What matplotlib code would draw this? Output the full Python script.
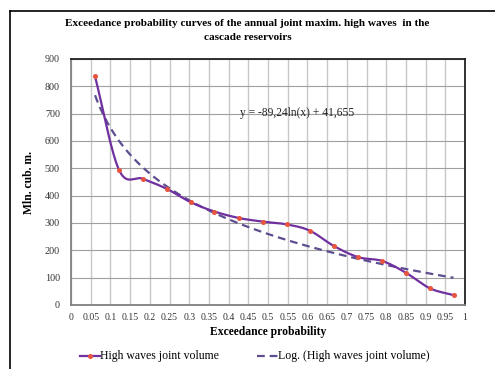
import numpy as np
import matplotlib
matplotlib.use("Agg")
import matplotlib.pyplot as plt

prob = [0.061, 0.122, 0.182, 0.243, 0.304, 0.364, 0.427, 0.487, 0.547,
        0.606, 0.667, 0.729, 0.790, 0.850, 0.911, 0.971]
volume = [836, 494, 462, 425, 376, 342, 318, 305, 295,
          272, 216, 175, 161, 118, 61, 36]
x_ticks = [0, 0.05, 0.1, 0.15, 0.2, 0.25, 0.3, 0.35, 0.4, 0.45, 0.5,
           0.55, 0.6, 0.65, 0.7, 0.75, 0.8, 0.85, 0.9, 0.95, 1]
y_ticks = [0, 100, 200, 300, 400, 500, 600, 700, 800, 900]

SERIF = ["Liberation Serif", "DejaVu Serif"]
plt.rcParams['font.family'] = SERIF

def catmull_rom(x, y, n=20):
    x = np.asarray(x, float); y = np.asarray(y, float)
    px = np.concatenate([[2*x[0]-x[1]], x, [2*x[-1]-x[-2]]])
    py = np.concatenate([[2*y[0]-y[1]], y, [2*y[-1]-y[-2]]])
    xs, ys = [], []
    t = np.linspace(0, 1, n, endpoint=False)
    for i in range(1, len(px)-2):
        for arr, out in ((px, xs), (py, ys)):
            p0, p1, p2, p3 = arr[i-1], arr[i], arr[i+1], arr[i+2]
            out.extend(0.5*((2*p1) + (-p0+p2)*t + (2*p0-5*p1+4*p2-p3)*t**2
                            + (-p0+3*p1-3*p2+p3)*t**3))
    xs.append(x[-1]); ys.append(y[-1])
    return np.array(xs), np.array(ys)

fig = plt.figure(figsize=(4.95, 3.69), dpi=100)
W, H = 495, 369
ax = fig.add_axes([71/W, 1-305/H, (465-71)/W, (305-59)/H])

sx, sy = catmull_rom(prob, volume)
ax.plot(sx, sy, color="#7030A0", lw=1.6, zorder=3)
ax.plot(prob, volume, ls="none", marker="o", ms=2.6, color="#E8553F",
        mec="#E8553F", zorder=4)

# logarithmic trendline (least squares on the data)
a, b = np.polyfit(np.log(prob), volume, 1)
tx = np.linspace(prob[0], prob[-1], 200)
ax.plot(tx, a*np.log(tx)+b, color="#5E4E90", lw=1.6, ls=(0, (3.5, 2.2)), zorder=2)

ax.set_xlim(0, 1)
ax.set_ylim(0, 900)
ax.set_xticks(x_ticks)
ax.set_xticklabels([f"{v:g}" for v in x_ticks])
ax.set_yticks(y_ticks)
ax.tick_params(axis="x", length=0, labelsize=7, colors="#333333", pad=6)
ax.tick_params(axis="y", length=0, labelsize=7.3, colors="#333333", pad=8)
ax.grid(axis="x", color="#c8c8c8", lw=1.0)
ax.grid(axis="y", color="#a0a0a0", lw=0.8)
ax.set_axisbelow(True)
for s in ("top", "right"):
    ax.spines[s].set_color("#222222"); ax.spines[s].set_linewidth(1.3)
for s in ("left", "bottom"):
    ax.spines[s].set_color("#808080"); ax.spines[s].set_linewidth(1.3)

ax.set_xlabel("Exceedance probability", fontsize=8.4, fontweight="bold", labelpad=3)
ax.set_ylabel("Mln. cub. m.", fontsize=8.4, fontweight="bold", labelpad=7)

ax.text(240/W, 1-113/H, "y = -89,24ln(x) + 41,655", transform=fig.transFigure,
        fontsize=8.3, va="center", ha="left", color="#222222")

fig.text(0.5, 1-24/H, "Exceedance probability curves of the annual joint maxim. high waves  in the",
         ha="center", va="center", fontsize=8.1, fontweight="bold")
fig.text(0.5, 1-38/H, "cascade reservoirs", ha="center", va="center",
         fontsize=8.1, fontweight="bold")

# outer chart border (left and top visible)
fig.add_artist(plt.Line2D([10/W, 10/W], [0, 1-11/H], color="black", lw=1.2,
                          transform=fig.transFigure))
fig.add_artist(plt.Line2D([10/W, 1], [1-11/H, 1-11/H], color="black", lw=1.2,
                          transform=fig.transFigure))

# legend
ly = 1-356/H
fig.add_artist(plt.Line2D([80/W, 100/W], [ly, ly], color="#7030A0", lw=1.6,
                          transform=fig.transFigure))
fig.add_artist(plt.Line2D([90/W], [ly], ls="none", marker="o", ms=2.6,
                          color="#E8553F", transform=fig.transFigure))
fig.text(100/W, ly, "High waves joint volume", fontsize=8.5, va="center", ha="left")
fig.add_artist(plt.Line2D([257/W, 278/W], [ly, ly], color="#5E4E90", lw=1.6,
                          ls=(0, (3.5, 2.2)), transform=fig.transFigure))
fig.text(278/W, ly, "Log. (High waves joint volume)", fontsize=8.5, va="center", ha="left")

fig.savefig("out.png", dpi=100)
